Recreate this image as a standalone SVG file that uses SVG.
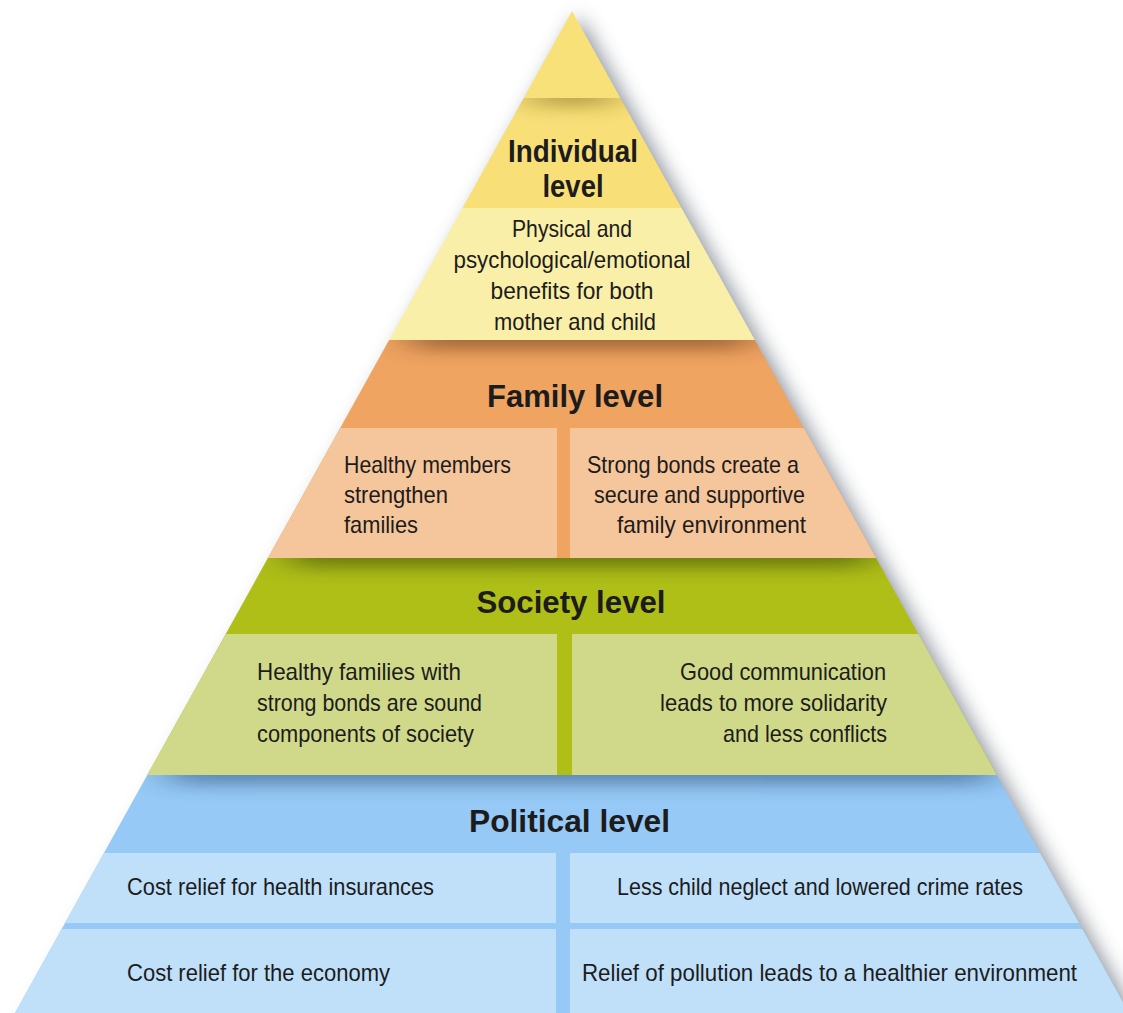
<svg xmlns="http://www.w3.org/2000/svg" width="1123" height="1013" viewBox="0 0 1123 1013">
  <style>
    .t { font-family: "Liberation Sans Narrow", "Liberation Sans", Arial, sans-serif; fill: #1c1c1c; }
    .title { font-size: 32px; font-weight: bold; text-anchor: middle; }
    .body { font-size: 24px; }
    .mid { text-anchor: middle; }
  </style>
  <defs>
    <clipPath id="pyr">
      <polygon points="572,11 1129,1013 15,1013"/>
    </clipPath>
    <filter id="drop" x="-10%" y="-10%" width="120%" height="120%">
      <feGaussianBlur stdDeviation="10"/>
    </filter>
    <filter id="band" x="-30%" y="-300%" width="160%" height="700%">
      <feGaussianBlur stdDeviation="20 9"/>
    </filter>
    <clipPath id="c1"><rect x="0" y="98" width="1123" height="110"/></clipPath>
    <clipPath id="c2"><rect x="0" y="340" width="1123" height="88"/></clipPath>
    <clipPath id="c3"><rect x="0" y="558" width="1123" height="76"/></clipPath>
    <clipPath id="c4"><rect x="0" y="775" width="1123" height="78"/></clipPath>
  </defs>

  <rect width="1123" height="1013" fill="#ffffff"/>

  <!-- drop shadow of pyramid -->
  <polygon points="579,16 1145,1035 22,1035" fill="#6f7783" opacity="0.8" filter="url(#drop)"/>

  <!-- Individual level -->
  <g id="individual-level">
    <g clip-path="url(#pyr)">
      <rect x="0" y="0" width="1123" height="98" fill="#f9e17a"/>
      <rect x="0" y="98" width="1123" height="110" fill="#f8df78"/>
      <g clip-path="url(#c1)">
        <rect x="530" y="88" width="85" height="16" fill="#6b5a10" opacity="0.6" filter="url(#band)"/>
      </g>
      <rect x="0" y="208" width="1123" height="132" fill="#faefa8"/>
    </g>
    <text class="t title" x="573" y="162" textLength="130" lengthAdjust="spacingAndGlyphs">Individual</text>
    <text class="t title" x="573" y="197" textLength="61" lengthAdjust="spacingAndGlyphs">level</text>
    <text class="t body mid" x="572" y="237" textLength="120" lengthAdjust="spacingAndGlyphs">Physical and</text>
    <text class="t body mid" x="572" y="268" textLength="237" lengthAdjust="spacingAndGlyphs">psychological/emotional</text>
    <text class="t body mid" x="572" y="299" textLength="163" lengthAdjust="spacingAndGlyphs">benefits for both</text>
    <text class="t body mid" x="575" y="330" textLength="162" lengthAdjust="spacingAndGlyphs">mother and child</text>
  </g>

  <!-- Family level -->
  <g id="family-level">
    <g clip-path="url(#pyr)">
      <rect x="0" y="340" width="1123" height="218" fill="#f0a462"/>
      <g clip-path="url(#c2)">
        <rect x="410" y="328" width="340" height="20" fill="#5a2e08" opacity="0.6" filter="url(#band)"/>
      </g>
      <rect x="0" y="428" width="557" height="130" fill="#f5c59b"/>
      <rect x="570" y="428" width="553" height="130" fill="#f5c59b"/>
    </g>
    <text class="t title" x="575" y="407" textLength="176" lengthAdjust="spacingAndGlyphs">Family level</text>
    <text class="t body" x="344" y="473" textLength="167" lengthAdjust="spacingAndGlyphs">Healthy members</text>
    <text class="t body" x="344" y="503" textLength="104" lengthAdjust="spacingAndGlyphs">strengthen</text>
    <text class="t body" x="344" y="533" textLength="74" lengthAdjust="spacingAndGlyphs">families</text>
    <text class="t body" x="587" y="473" textLength="212" lengthAdjust="spacingAndGlyphs">Strong bonds create a</text>
    <text class="t body" x="594" y="503" textLength="211" lengthAdjust="spacingAndGlyphs">secure and supportive</text>
    <text class="t body" x="617" y="533" textLength="189" lengthAdjust="spacingAndGlyphs">family environment</text>
  </g>

  <!-- Society level -->
  <g id="society-level">
    <g clip-path="url(#pyr)">
      <rect x="0" y="558" width="1123" height="217" fill="#afbf18"/>
      <g clip-path="url(#c3)">
        <rect x="290" y="546" width="580" height="20" fill="#2e3a00" opacity="0.6" filter="url(#band)"/>
      </g>
      <rect x="0" y="634" width="557" height="141" fill="#d0d98a"/>
      <rect x="572" y="634" width="551" height="141" fill="#d0d98a"/>
    </g>
    <text class="t title" x="571" y="613" textLength="189" lengthAdjust="spacingAndGlyphs">Society level</text>
    <text class="t body" x="257" y="680" textLength="204" lengthAdjust="spacingAndGlyphs">Healthy families with</text>
    <text class="t body" x="257" y="711" textLength="225" lengthAdjust="spacingAndGlyphs">strong bonds are sound</text>
    <text class="t body" x="257" y="742" textLength="217" lengthAdjust="spacingAndGlyphs">components of society</text>
    <text class="t body" x="680" y="680" textLength="206" lengthAdjust="spacingAndGlyphs">Good communication</text>
    <text class="t body" x="660" y="711" textLength="227" lengthAdjust="spacingAndGlyphs">leads to more solidarity</text>
    <text class="t body" x="723" y="742" textLength="164" lengthAdjust="spacingAndGlyphs">and less conflicts</text>
  </g>

  <!-- Political level -->
  <g id="political-level">
    <g clip-path="url(#pyr)">
      <rect x="0" y="775" width="1123" height="238" fill="#96c9f6"/>
      <g clip-path="url(#c4)">
        <rect x="170" y="763" width="820" height="20" fill="#1a3a60" opacity="0.55" filter="url(#band)"/>
      </g>
      <rect x="0" y="853" width="556" height="70" fill="#c0e0fa"/>
      <rect x="570" y="853" width="553" height="70" fill="#c0e0fa"/>
      <rect x="0" y="929" width="556" height="84" fill="#c0e0fa"/>
      <rect x="570" y="929" width="553" height="84" fill="#c0e0fa"/>
    </g>
    <text class="t title" x="569.5" y="832" textLength="201" lengthAdjust="spacingAndGlyphs">Political level</text>
    <text class="t body" x="127" y="895" textLength="307" lengthAdjust="spacingAndGlyphs">Cost relief for health insurances</text>
    <text class="t body" x="617" y="895" textLength="406" lengthAdjust="spacingAndGlyphs">Less child neglect and lowered crime rates</text>
    <text class="t body" x="127" y="981" textLength="263" lengthAdjust="spacingAndGlyphs">Cost relief for the economy</text>
    <text class="t body" x="582" y="981" textLength="495" lengthAdjust="spacingAndGlyphs">Relief of pollution leads to a healthier environment</text>
  </g>

  <g id="connectors"/>
</svg>
